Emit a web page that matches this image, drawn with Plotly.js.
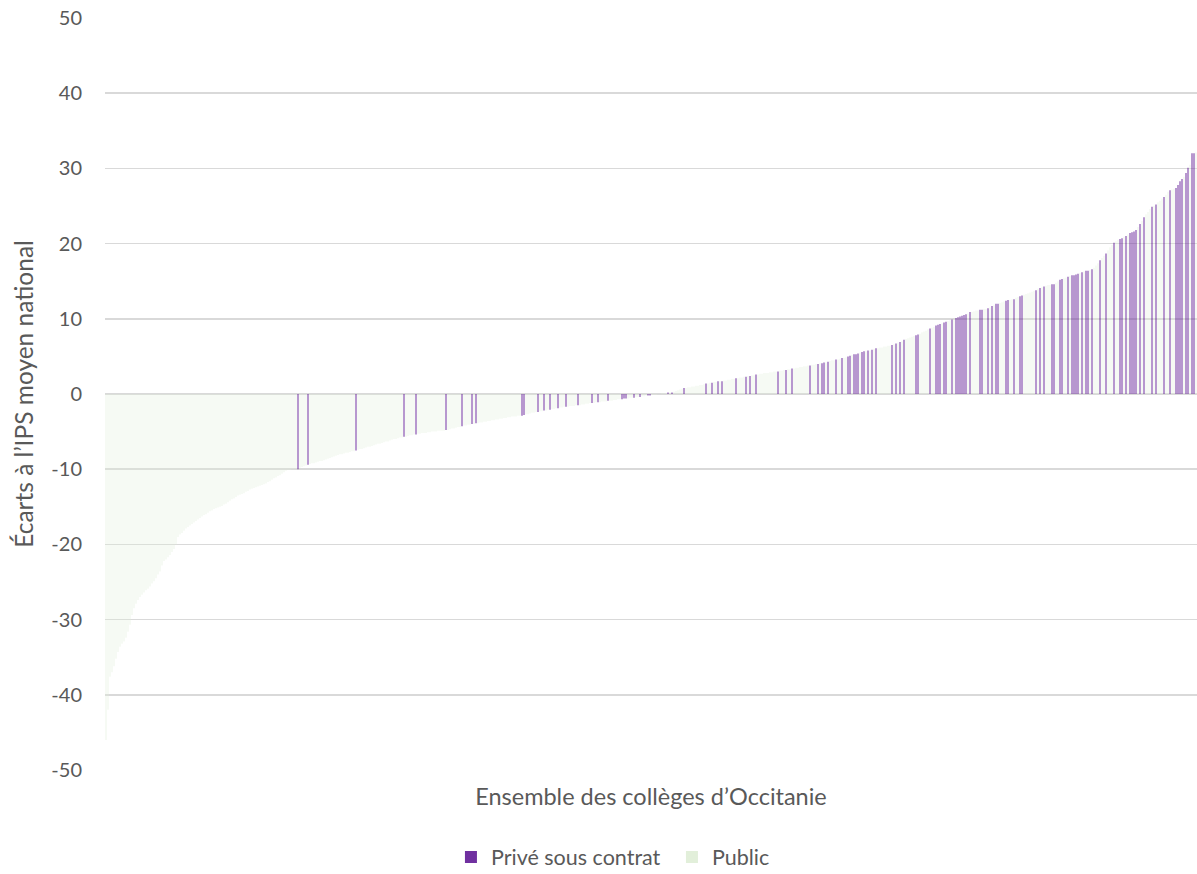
<!DOCTYPE html>
<html>
<head>
<meta charset="utf-8">
<script src="https://cdn.plot.ly/plotly-3.0.1.min.js"></script>
<style>
html,body{margin:0;padding:0;background:#fff;}
#chart{width:1197px;height:874px;}
</style>
</head>
<body>
<div id="chart"></div>
<script>
// Écart de chaque collège à l'IPS moyen national, triés par ordre croissant
const ecarts = [
-46.0,-42.0,-37.6,-37.0,-36.2,-35.2,-34.3,-33.6,-33.2,-32.9,-32.4,-31.6,-30.7,
-29.4,-28.5,-27.9,-27.4,-27.0,-26.7,-26.4,-26.1,-25.9,-25.6,-25.2,-24.9,-24.5,-24.0,-23.6,
-22.8,-22.2,-22.0,-21.7,-21.4,-21.0,-20.6,-20.0,-19.0,-18.7,-18.5,-18.2,-17.9,-17.7,-17.5,-17.3,-17.1,-16.9,-16.7,-16.5,
-16.3,-16.1,-16.0,-15.8,-15.6,-15.5,-15.3,-15.2,-15.1,-15.0,-14.9,-14.7,-14.6,-14.4,-14.2,-14.0,-13.9,-13.7,-13.5,-13.4,
-13.3,-13.2,-13.0,-12.9,-12.7,-12.6,-12.5,-12.4,-12.3,-12.2,-12.1,-12.0,-11.9,-11.7,-11.6,-11.4,-11.2,-11.1,-10.9,-10.8,-10.6,-10.4,-10.2,-10.1,-10.1,-10.0,-10.0,-10.0,
-10.0,-9.8,-9.7,-9.6,-9.5,-9.4,-9.3,-9.2,-9.2,-9.1,-9.0,-8.9,-8.9,-8.8,-8.7,-8.6,-8.5,-8.4,-8.3,-8.2,-8.1,-8.0,-8.0,-7.9,-7.8,-7.8,-7.7,-7.6,-7.6,-7.5,
-7.4,-7.3,-7.3,-7.2,-7.1,-7.0,-7.0,-6.9,-6.8,-6.7,-6.6,-6.6,-6.5,-6.4,-6.3,-6.3,-6.2,-6.1,-6.0,-6.0,-5.9,-5.8,-5.8,-5.7,
-5.7,-5.6,-5.5,-5.5,-5.4,-5.4,-5.3,-5.3,-5.2,-5.2,-5.2,-5.1,-5.1,-5.0,-5.0,-5.0,-4.9,-4.9,-4.9,-4.9,-4.8,-4.8,-4.7,-4.6,-4.6,-4.5,-4.4,-4.4,-4.3,-4.2,-4.2,-4.1,-4.1,-4.0,-4.0,-3.9,-3.9,-3.8,-3.8,-3.7,-3.7,-3.6,-3.6,
-3.5,-3.5,-3.4,-3.4,-3.3,-3.3,-3.2,-3.2,-3.1,-3.1,-3.0,-3.0,-3.0,-2.9,-2.9,-2.9,-2.8,-2.7,-2.7,-2.6,-2.5,-2.5,-2.4,-2.4,-2.3,-2.3,-2.2,-2.2,-2.1,-2.1,
-2.0,-2.0,-1.9,-1.9,-1.8,-1.8,-1.7,-1.7,-1.7,-1.6,-1.6,-1.6,-1.5,-1.5,-1.5,-1.4,-1.4,-1.3,-1.3,-1.2,-1.2,-1.2,-1.1,-1.1,-1.1,-1.0,-1.0,-1.0,-0.9,-0.9,-0.9,-0.8,-0.8,-0.7,-0.7,-0.7,-0.6,-0.6,-0.6,-0.5,-0.5,-0.5,-0.4,-0.4,-0.4,-0.3,-0.3,-0.2,-0.2,-0.2,-0.1,-0.1,-0.1,0.0,0.0,
0.1,0.1,0.1,0.2,0.2,0.2,0.3,0.4,0.5,0.6,0.7,0.8,0.8,0.9,0.9,1.0,1.0,1.1,1.1,1.2,1.2,1.3,1.4,1.4,1.5,1.5,1.6,1.6,1.7,1.7,1.7,1.8,1.8,1.9,1.9,2.0,2.0,2.1,2.1,2.2,2.2,2.3,2.3,2.4,2.4,2.5,2.5,2.6,
2.6,2.7,2.7,2.8,2.8,2.8,2.9,2.9,3.0,3.0,3.0,3.1,3.1,3.2,3.2,3.3,3.3,3.4,3.4,3.5,3.5,3.6,3.6,3.7,3.7,3.8,3.8,3.9,3.9,4.0,4.0,4.1,4.1,4.2,4.2,4.3,4.4,4.5,4.5,4.6,4.6,4.7,4.8,4.8,4.9,5.0,5.1,5.2,5.3,5.3,5.4,5.5,5.6,5.7,5.7,5.8,5.8,
5.9,6.0,6.1,6.1,6.2,6.2,6.3,6.3,6.4,6.4,6.5,6.6,6.7,6.8,6.9,7.0,7.2,7.3,7.4,7.5,7.6,7.7,7.8,7.9,8.0,8.2,8.3,8.4,8.6,8.7,8.8,8.9,9.1,9.2,9.3,9.4,9.5,9.6,9.7,9.8,9.9,10.0,10.1,
10.2,10.3,10.4,10.5,10.6,10.7,10.9,10.9,11.0,11.1,11.1,11.2,11.2,11.3,11.3,11.4,11.5,11.7,11.8,12.0,12.0,12.1,12.2,12.3,12.4,12.5,12.5,12.6,12.6,12.8,12.9,13.0,
13.1,13.2,13.3,13.4,13.5,13.6,13.7,13.8,14.0,14.1,14.2,14.3,14.4,14.5,14.5,14.6,14.6,14.8,15.0,15.2,15.3,15.4,15.5,15.6,15.7,15.8,15.8,15.9,16.0,16.1,16.2,16.3,16.4,16.4,16.5,16.6,16.8,17.1,17.4,17.8,
18.1,18.4,18.7,19.1,19.5,19.8,20.1,20.3,20.5,20.6,20.7,20.9,21.0,21.2,21.4,21.5,21.6,21.8,22.2,22.6,23.0,23.5,23.9,24.2,24.6,24.9,25.0,25.2,25.5,25.7,26.0,26.2,26.5,26.9,27.1,27.2,27.3,27.4,27.8,28.3,28.6,28.9,29.4,30.1,30.5,32.0,32.0,32.1
];

// Rangs (dans le classement ci-dessus) des collèges privés sous contrat ; les autres sont publics
const rangsPrives = [
96,101,125,149,155,170,178,183,185,
208,209,216,219,222,226,230,236,243,246,251,258,259,260,264,267,271,272,
281,283,289,300,303,306,308,315,320,322,325,
336,340,343,352,356,358,359,361,365,368,371,372,374,375,376,378,379,381,
383,385,393,395,397,399,405,406,412,415,416,417,419,420,423,425,
426,427,428,429,430,432,437,438,441,443,445,446,450,451,454,457,
458,465,467,469,473,474,477,478,481,483,484,485,486,488,490,491,493,497,
500,504,507,508,510,512,513,514,515,517,519,523,525,529,532,535,536,537,538,540,541,543,544
];

const secteurs = ["Privé sous contrat", "Public"];
const couleurs = ["#7030A0", "#E2EFDA"];
const yTicks = [-50,-40,-30,-20,-10,0,10,20,30,40,50];

const N = ecarts.length;
const rangs = ecarts.map((_, i) => i);
const prive = new Set(rangsPrives);
const yPrive = ecarts.map((v, i) => prive.has(i) ? v : null);
const yPublic = ecarts.map((v, i) => prive.has(i) ? null : v);

const font = "Lato, 'Liberation Sans', sans-serif";
const grey = "#595959";

const traces = [
  {type: "bar", name: secteurs[0], x: rangs, y: yPrive, width: 0.5, marker: {color: couleurs[0], line: {width: 0}}, hoverinfo: "skip"},
  {type: "bar", name: secteurs[1], x: rangs, y: yPublic, width: 0.3, marker: {color: couleurs[1], line: {width: 0}}, hoverinfo: "skip"}
];

const layout = {
  width: 1197, height: 874,
  margin: {l: 105, r: 0, t: 18, b: 104, autoexpand: false},
  paper_bgcolor: "#ffffff", plot_bgcolor: "#ffffff",
  barmode: "overlay", bargap: 0.7,
  font: {family: font, color: grey, size: 19},
  showlegend: true,
  legend: {orientation: "h", x: 0.3168, xanchor: "left", y: -0.1157, yanchor: "middle",
           entrywidth: 176, entrywidthmode: "pixels",
           font: {family: font, size: 21.5, color: grey}, traceorder: "normal"},
  xaxis: {
    range: [-0.5, N - 0.5], showticklabels: false, showgrid: false, zeroline: false,
    showline: false, ticks: "", fixedrange: true, automargin: false,
    title: {text: "Ensemble des collèges d’Occitanie", font: {family: font, size: 23.5, color: grey}, standoff: 18}
  },
  yaxis: {
    range: [-50, 50], tickvals: yTicks, ticktext: yTicks.map(String),
    showgrid: true, gridcolor: "#D9D9D9", gridwidth: 1.5,
    zeroline: true, zerolinecolor: "#D9D9D9", zerolinewidth: 1.5,
    showline: false, ticks: "", ticklabelstandoff: 22, fixedrange: true, automargin: false,
    tickfont: {family: font, size: 20, color: grey},
    title: {text: "Écarts à l’IPS moyen national", font: {family: font, size: 24.5, color: grey}, standoff: 10}
  }
};

Plotly.newPlot("chart", traces, layout, {staticPlot: true, displayModeBar: false});
</script>
</body>
</html>
